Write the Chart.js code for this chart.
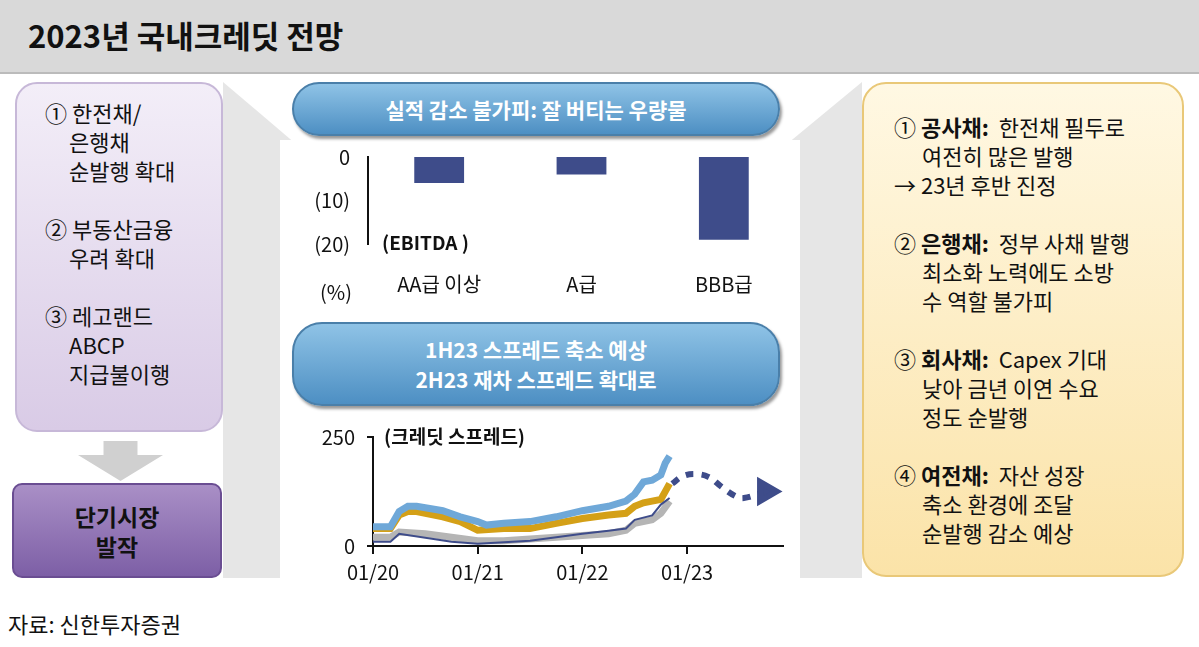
<!DOCTYPE html>
<html><head><meta charset="utf-8">
<script src="https://cdn.jsdelivr.net/npm/chart.js@4"></script>
<style>
body{margin:0;width:1199px;height:647px;background:#fff;font-family:"Noto Sans CJK KR",sans-serif;position:relative;overflow:hidden;color:#111}
.abs{position:absolute}
#title{left:0;top:0;width:1199px;height:72px;background:#d9d9d9;border-bottom:2px solid #bbb}
#title span{position:absolute;left:28px;top:12px;font-size:31px;font-weight:bold}
.wedge{background:#e6e6e6}
#left{left:15px;top:82px;width:208px;height:350px;border-radius:22px;background:linear-gradient(#f3eef8,#d9cbe6);border:2px solid #c7b8d8;box-sizing:border-box;font-size:22px;line-height:29px;padding:14px 0 0 28px}
#dark{left:12px;top:483px;width:210px;height:95px;border-radius:10px;background:linear-gradient(#a98fc6,#7d5fa6);border:2px solid #6a4d92;box-sizing:border-box;font-size:23px;font-weight:bold;text-align:center;line-height:30px;padding-top:16px;color:#111}
#right{left:862px;top:82px;width:322px;height:495px;border-radius:24px;background:linear-gradient(#fff8e3,#fbe3a8);border:2px solid #e9c878;box-sizing:border-box;font-size:22px;line-height:29px;padding:28px 0 0 30px}
.pill{left:292px;width:488px;border-radius:30px;background:linear-gradient(#8fc3e6,#4d8fc3);border:2px solid #4a7fa9;box-sizing:border-box;color:#fff;font-size:21px;font-weight:bold;text-align:center;box-shadow:2px 3px 3px #999}
p{margin:0}
</style></head><body>
<div id="title" class="abs"><span>2023년 국내크레딧 전망</span></div>
<div class="abs wedge" style="left:223px;top:82px;width:70px;height:496px;clip-path:polygon(0 0,100% 12%,100% 100%,0 100%)"></div>
<div class="abs wedge" style="left:790px;top:82px;width:72px;height:496px;clip-path:polygon(0 12%,100% 0,100% 100%,0 100%)"></div>
<div class="abs" style="left:280px;top:140px;width:520px;height:440px;background:#fff"></div>
<div id="left" class="abs">
<p>① 한전채/</p><p style="padding-left:24px">은행채</p><p style="padding-left:24px">순발행 확대</p><br>
<p>② 부동산금융</p><p style="padding-left:24px">우려 확대</p><br>
<p>③ 레고랜드</p><p style="padding-left:24px">ABCP</p><p style="padding-left:24px">지급불이행</p>
</div>
<div class="abs" style="left:78px;top:441px;width:85px;height:40px;background:#d0d0d0;clip-path:polygon(30% 0,70% 0,70% 35%,100% 35%,50% 100%,0 35%,30% 35%)"></div>
<div id="dark" class="abs">단기시장<br>발작</div>
<div id="right" class="abs">
<p>① <b>공사채:</b>&nbsp; 한전채 필두로</p><p style="padding-left:28px">여전히 많은 발행</p><p>→ 23년 후반 진정</p><br>
<p>② <b>은행채:</b>&nbsp; 정부 사채 발행</p><p style="padding-left:28px">최소화 노력에도 소방</p><p style="padding-left:28px">수 역할 불가피</p><br>
<p>③ <b>회사채:</b>&nbsp; Capex 기대</p><p style="padding-left:28px">낮아 금년 이연 수요</p><p style="padding-left:28px">정도 순발행</p><br>
<p>④ <b>여전채:</b>&nbsp; 자산 성장</p><p style="padding-left:28px">축소 환경에 조달</p><p style="padding-left:28px">순발행 감소 예상</p>
</div>
<div class="abs pill" style="top:82px;height:54px;line-height:50px">실적 감소 불가피: 잘 버티는 우량물</div>
<div class="abs pill" style="top:322px;height:84px;line-height:30px;padding-top:10px">1H23 스프레드 축소 예상<br>2H23 재차 스프레드 확대로</div>
<div class="abs" style="left:290px;top:135px;width:505px;height:189px"><canvas id="bar"></canvas></div>
<div class="abs" style="left:290px;top:413px;width:510px;height:177px"><canvas id="line"></canvas></div>
<div class="abs" style="left:382px;top:228px;font-size:19px;font-weight:bold">(EBITDA )</div>
<div class="abs" style="left:320px;top:277px;font-size:20px">(%)</div>
<div class="abs" style="left:384px;top:422px;font-size:19px;font-weight:bold">(크레딧 스프레드)</div>
<div class="abs" style="left:8px;top:607px;font-size:22px">자료: 신한투자증권</div>
<script>
const barCats=["AA급 이상","A급","BBB급"];
const barVals=[-6,-4,-19];
const blueM=[0,2,3,4,5,8,10,12,13,15,18,21,24,27,29,30,31,32,33,33.5,34];
const blueV=[44,44,79,91,91,81,67,56,48,52,56,67,81,91,103,119,147,151,163,190,206];
const goldM=[0,2,3,4,5,8,10,12,15,18,21,24,27,29,30,31,32,33,34];
const goldV=[40,40,71,79,79,67,56,36,40,40,52,63,71,75,91,99,103,107,143];
const grayM=[0,2,3,6,9,12,15,18,21,24,27,29,30,32,33,34];
const grayV=[20,20,32,28,20,12,12,16,20,24,28,36,52,60,75,103];
const navyM=[0,2,3,9,12,18,24,27,29,30,32,33,34];
const navyV=[10,10,28,10,5,12,28,35,40,60,70,95,110];
const fcM=[34.3,35.5,37,38.5,40,41.5,42.5,45];
const fcV=[143,160,165,158,135,115,110,125];
const xTickM=[0,12,24,36], xTickL=["01/20","01/21","01/22","01/23"];
const F="'Noto Sans CJK KR',sans-serif";
Chart.defaults.font.family=F;Chart.defaults.color="#111";
new Chart(document.getElementById('bar'),{type:'bar',
 data:{labels:barCats,datasets:[{data:barVals,backgroundColor:'#3e4c8a',barPercentage:0.35,categoryPercentage:1}]},
 options:{responsive:true,maintainAspectRatio:false,animation:false,plugins:{legend:{display:false},tooltip:{enabled:false}},
 layout:{padding:{top:9,right:0}},
 scales:{y:{min:-20,max:0,ticks:{stepSize:10,font:{size:20},padding:10,callback:v=>v<0?'('+(-v)+')':v},grid:{display:false},border:{color:'#111',width:2},afterFit:s=>{s.width=78}},
 x:{grid:{display:false,drawTicks:false},border:{display:false},ticks:{font:{size:20},padding:28}}}}});
const pts=(m,v)=>m.map((x,i)=>({x,y:v[i]}));
new Chart(document.getElementById('line'),{type:'line',
 data:{datasets:[
  {data:pts(navyM,navyV),borderColor:'#3e4c8a',borderWidth:2,pointRadius:0},
  {data:pts(grayM,grayV),borderColor:'#b5b5b5',borderWidth:7,pointRadius:0},
  {data:pts(blueM,blueV),borderColor:'#6fa8d8',borderWidth:7,pointRadius:0},
  {data:pts(goldM,goldV),borderColor:'#d4a017',borderWidth:7,pointRadius:0},
  {data:pts(fcM,fcV),borderColor:'#3e4c8a',borderWidth:6,borderDash:[8,8],tension:0.4,
   pointRadius:ctx=>ctx.dataIndex===fcM.length-1?11:0,pointStyle:'triangle',pointRotation:90,pointBackgroundColor:'#3e4c8a',pointBorderColor:'#3e4c8a'}
 ]},
 options:{responsive:true,maintainAspectRatio:false,animation:false,plugins:{legend:{display:false},tooltip:{enabled:false}},
 layout:{padding:{top:1,right:4}},
 scales:{x:{type:'linear',min:0,max:47,afterBuildTicks:s=>{s.ticks=xTickM.map(v=>({value:v}))},
   ticks:{font:{size:20},padding:6,callback:v=>xTickL[xTickM.indexOf(v)]},grid:{drawOnChartArea:false,tickLength:8,color:'#111',lineWidth:2},border:{color:'#111',width:2}},
  y:{min:0,max:250,ticks:{stepSize:250,font:{size:20},padding:12},grid:{drawOnChartArea:false,tickLength:6,color:'#111',lineWidth:2},border:{color:'#111',width:2},afterFit:s=>{s.width=83}}}}});
</script></body></html>
